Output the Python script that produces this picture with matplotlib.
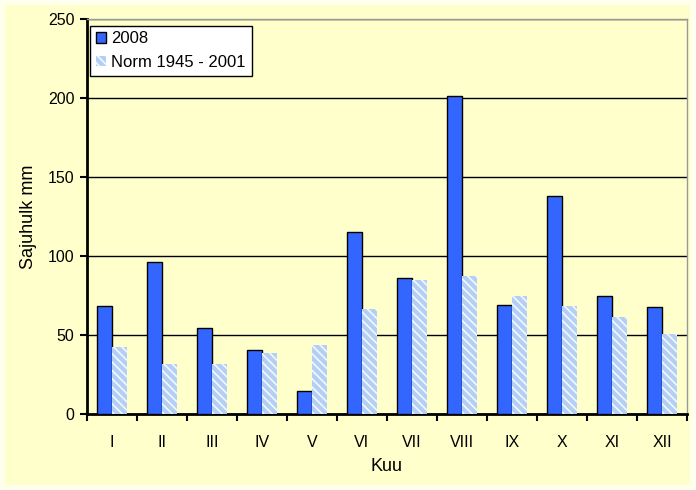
import matplotlib.pyplot as plt
import numpy as np

plt.rcParams['font.family'] = ['Liberation Sans', 'DejaVu Sans']
plt.rcParams['hatch.linewidth'] = 1.2

months = ['I', 'II', 'III', 'IV', 'V', 'VI', 'VII', 'VIII', 'IX', 'X', 'XI', 'XII']
rain_2008 = [68.4, 96.2, 54.4, 40.5, 14.6, 115.2, 86.0, 201.3, 69.0, 138.0, 74.7, 67.7]
norm = [42.4, 31.6, 31.6, 38.6, 43.7, 66.5, 84.8, 87.3, 74.7, 68.4, 61.4, 50.6]

bg = '#FFFFCC'
fig = plt.figure(figsize=(6.96, 4.90), dpi=100, facecolor='#FFFFEE')
# chart area (slightly inset from the image edge)
fig.patches.append(plt.Rectangle((5 / 696, 5 / 490), 685 / 696, 480 / 490, transform=fig.transFigure,
                                 facecolor=bg, edgecolor='none', zorder=-10))
ax = fig.add_axes([0.125, 0.155, 0.862, 0.806])
ax.set_facecolor(bg)

x = np.arange(len(months))
w = 0.3
ax.bar(x - w / 2, rain_2008, w, color='#3366FF', edgecolor='black', linewidth=1,
       label='2008', zorder=3)
ax.bar(x + w / 2, norm, w, color='#B3CFF5', edgecolor='#F4F8FF', linewidth=0,
       hatch='\\\\\\\\', label='Norm 1945 - 2001', zorder=3)

ax.set_xlim(-0.5, len(months) - 0.5)
ax.set_ylim(0, 250)
ax.set_yticks([0, 50, 100, 150, 200, 250])
ax.yaxis.grid(True, color='black', linewidth=1, zorder=0)
ax.set_axisbelow(True)

ax.set_xticks(x)
ax.set_xticklabels(months, fontsize=11.5)
ax.set_xticks(np.arange(-0.5, len(months)), minor=True)
ax.tick_params(axis='x', which='major', length=0, pad=15)
ax.tick_params(axis='x', which='minor', length=5, width=1.5, direction='out')
ax.tick_params(axis='y', length=5, width=1.5, direction='out', labelsize=11.5, pad=4)

for s in ['left', 'bottom']:
    ax.spines[s].set_linewidth(2)
for s in ['top', 'right']:
    ax.spines[s].set_color('#999999')
    ax.spines[s].set_linewidth(1)

ax.set_xlabel('Kuu', fontsize=13, labelpad=6)
ax.set_ylabel('Sajuhulk mm', fontsize=13, labelpad=8)

leg = ax.legend(loc='upper left', bbox_to_anchor=(0.0, 0.992), fontsize=12, frameon=True,
                fancybox=False, edgecolor='black', facecolor='white', framealpha=1,
                handlelength=0.6, handleheight=0.6, handletextpad=0.3, borderpad=0.35,
                labelspacing=0.5, borderaxespad=0.2)
leg.get_frame().set_linewidth(1)

fig.savefig('out.png', dpi=100, facecolor='#FFFFEE')
